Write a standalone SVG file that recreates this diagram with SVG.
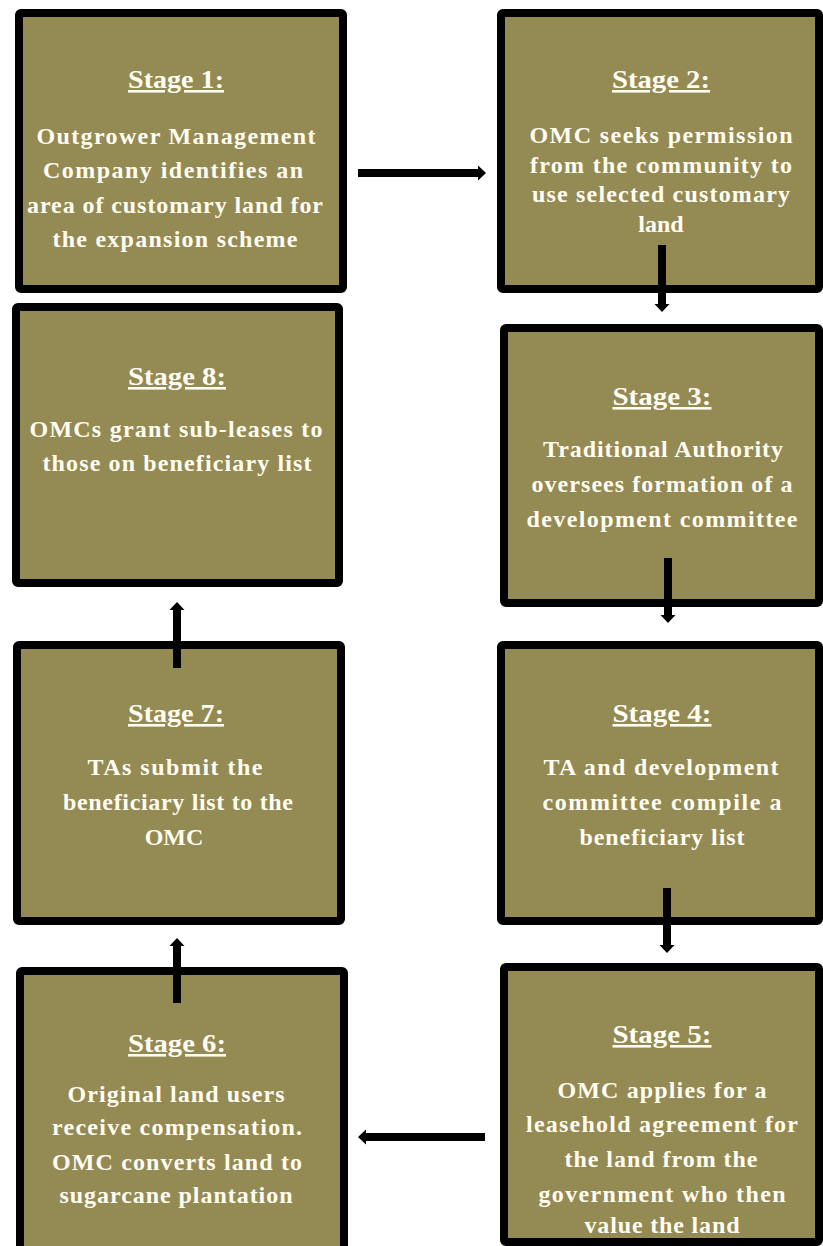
<svg xmlns="http://www.w3.org/2000/svg" width="823" height="1246" viewBox="0 0 823 1246">
<style>
.box{fill:#948A54;stroke:#000;stroke-width:8;}
.t{font-family:"Liberation Serif",serif;font-weight:bold;fill:#FFFDF2;text-anchor:middle;}
.h{font-size:26px;text-decoration:underline;}
.b{font-size:24px;}
.c{stroke:#000;stroke-width:8;fill:none;marker-end:url(#ah);}
</style>
<defs>
<marker id="ah" markerUnits="userSpaceOnUse" viewBox="-1 -9 11 18" refX="0" refY="0" markerWidth="11" markerHeight="18" orient="auto">
<path d="M0,-7.5 L8,0 L0,7.5 z" fill="#000"/>
</marker>
</defs>
<rect width="823" height="1246" fill="#fff"/>
<g id="stage1">
<rect class="box" x="19" y="13" width="324" height="276" rx="2"/>
<text class="t h" x="176" y="88" textLength="96" lengthAdjust="spacingAndGlyphs">Stage 1:</text>
<text class="t b" x="176" y="144" textLength="279" lengthAdjust="spacing">Outgrower Management</text>
<text class="t b" x="173" y="178" textLength="260" lengthAdjust="spacing">Company identifies an</text>
<text class="t b" x="175" y="213" textLength="296" lengthAdjust="spacing">area of customary land for</text>
<text class="t b" x="175" y="247" textLength="245" lengthAdjust="spacing">the expansion scheme</text>
</g>
<g id="stage2">
<rect class="box" x="501" y="13" width="318" height="276" rx="2"/>
<text class="t h" x="661" y="88" textLength="98" lengthAdjust="spacingAndGlyphs">Stage 2:</text>
<text class="t b" x="661" y="143" textLength="263" lengthAdjust="spacing">OMC seeks permission</text>
<text class="t b" x="661" y="173" textLength="262" lengthAdjust="spacing">from the community to</text>
<text class="t b" x="661" y="202" textLength="258" lengthAdjust="spacing">use selected customary</text>
<text class="t b" x="661" y="232">land</text>
</g>
<g id="stage3">
<rect class="box" x="504" y="328" width="315" height="275" rx="2"/>
<text class="t h" x="662" y="405" textLength="99" lengthAdjust="spacingAndGlyphs">Stage 3:</text>
<text class="t b" x="663" y="457" textLength="240" lengthAdjust="spacing">Traditional Authority</text>
<text class="t b" x="662" y="492" textLength="261" lengthAdjust="spacing">oversees formation of a</text>
<text class="t b" x="662" y="527" textLength="271" lengthAdjust="spacing">development committee</text>
</g>
<g id="stage4">
<rect class="box" x="501" y="645" width="318" height="276" rx="2"/>
<text class="t h" x="662" y="722" textLength="99" lengthAdjust="spacingAndGlyphs">Stage 4:</text>
<text class="t b" x="661" y="775" textLength="235" lengthAdjust="spacing">TA and development</text>
<text class="t b" x="662" y="810" textLength="239" lengthAdjust="spacing">committee compile a</text>
<text class="t b" x="662" y="845" textLength="165" lengthAdjust="spacing">beneficiary list</text>
</g>
<g id="stage5">
<rect class="box" x="504" y="967" width="315" height="275" rx="2"/>
<text class="t h" x="662" y="1043" textLength="99" lengthAdjust="spacingAndGlyphs">Stage 5:</text>
<text class="t b" x="662" y="1098" textLength="209" lengthAdjust="spacing">OMC applies for a</text>
<text class="t b" x="662" y="1132" textLength="272" lengthAdjust="spacing">leasehold agreement for</text>
<text class="t b" x="661" y="1167" textLength="193" lengthAdjust="spacing">the land from the</text>
<text class="t b" x="662" y="1202" textLength="247" lengthAdjust="spacing">government who then</text>
<text class="t b" x="662" y="1233" textLength="155" lengthAdjust="spacing">value the land</text>
</g>
<g id="stage6">
<rect class="box" x="20" y="971" width="324" height="290" rx="2"/>
<text class="t h" x="177" y="1052" textLength="98" lengthAdjust="spacingAndGlyphs">Stage 6:</text>
<text class="t b" x="176" y="1102" textLength="217" lengthAdjust="spacing">Original land users</text>
<text class="t b" x="177" y="1135" textLength="250" lengthAdjust="spacing">receive compensation.</text>
<text class="t b" x="177" y="1170" textLength="250" lengthAdjust="spacing">OMC converts land to</text>
<text class="t b" x="176" y="1203" textLength="233" lengthAdjust="spacing">sugarcane plantation</text>
</g>
<g id="stage7">
<rect class="box" x="17" y="645" width="324" height="276" rx="2"/>
<text class="t h" x="176" y="722" textLength="96" lengthAdjust="spacingAndGlyphs">Stage 7:</text>
<text class="t b" x="175" y="775" textLength="175" lengthAdjust="spacing">TAs submit the</text>
<text class="t b" x="178" y="810" textLength="230" lengthAdjust="spacing">beneficiary list to the</text>
<text class="t b" x="174" y="845">OMC</text>
</g>
<g id="stage8">
<rect class="box" x="16" y="307" width="323" height="276" rx="2"/>
<text class="t h" x="177" y="385" textLength="98" lengthAdjust="spacingAndGlyphs">Stage 8:</text>
<text class="t b" x="176" y="437" textLength="293" lengthAdjust="spacing">OMCs grant sub-leases to</text>
<text class="t b" x="177" y="471" textLength="269" lengthAdjust="spacing">those on beneficiary list</text>
</g>
<g id="connectors">
<path class="c" d="M358,173 H478"/>
<path class="c" d="M662,245 V304"/>
<path class="c" d="M668,558 V615"/>
<path class="c" d="M667,888 V945"/>
<path class="c" d="M485,1137 H366"/>
<path class="c" d="M177,1003 V946"/>
<path class="c" d="M177,668 V610"/>
</g>
</svg>
